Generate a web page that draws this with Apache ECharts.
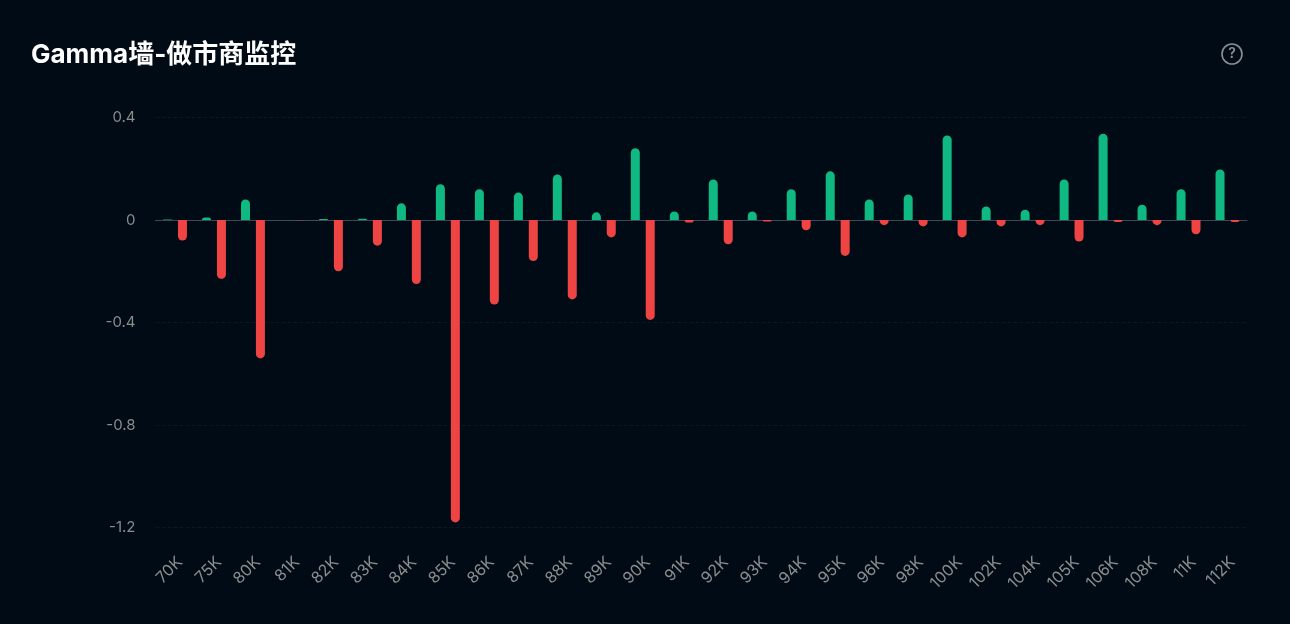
<!DOCTYPE html>
<html>
<head>
<meta charset="utf-8">
<title>Gamma墙-做市商监控</title>
<script src="https://cdn.jsdelivr.net/npm/echarts@6/dist/echarts.min.js"></script>
<style>
    html, body { margin: 0; padding: 0; background: #010b15; }
    #chart { width: 1290px; height: 624px; }
</style>
</head>
<body>
<div id="chart"></div>
<script>
var strikes = ['70K', '75K', '80K', '81K', '82K', '83K', '84K', '85K', '86K', '87K', '88K', '89K', '90K', '91K',
    '92K', '93K', '94K', '95K', '96K', '98K', '100K', '102K', '104K', '105K', '106K', '108K', '11K', '112K'];
var callGamma = [0.002, 0.01, 0.08, 0, 0.004, 0.005, 0.065, 0.14, 0.12, 0.107, 0.178, 0.03, 0.28, 0.033,
    0.158, 0.033, 0.12, 0.19, 0.08, 0.1, 0.33, 0.053, 0.04, 0.158, 0.337, 0.06, 0.12, 0.197];
var putGamma = [-0.08, -0.23, -0.54, -0.001, -0.2, -0.1, -0.25, -1.18, -0.33, -0.16, -0.31, -0.068, -0.39, -0.01,
    -0.095, -0.006, -0.04, -0.14, -0.02, -0.025, -0.068, -0.025, -0.02, -0.084, -0.008, -0.02, -0.056, -0.008];

var fontFamily = 'Inter, "Noto Sans CJK SC", sans-serif';
var myChart = echarts.init(document.getElementById('chart'));

var option = {
    backgroundColor: '#010b15',
    animation: false,
    title: {
        text: 'Gamma墙-做市商监控',
        left: 26,
        top: 37,
        textStyle: {
            color: '#ffffff',
            fontSize: 26,
            fontWeight: 700,
            fontFamily: fontFamily,
        },
    },
    grid: {
        left: 155.5,
        right: 43,
        top: 117.5,
        bottom: 96.5,
    },
    xAxis: {
        type: 'category',
        data: strikes,
        axisLine: {
            lineStyle: { color: '#3d4954', width: 1 },
        },
        axisTick: { show: false },
        axisLabel: {
            interval: 0,
            rotate: 45,
            // right end of each label sits a little past the category centre
            align: 'right',
            verticalAlign: 'middle',
            padding: [0, -7, 0, 0],
            margin: 37,
            color: '#8a8c8e',
            fontSize: 16,
            fontFamily: fontFamily,
        },
    },
    yAxis: {
        type: 'value',
        min: -1.2,
        max: 0.4,
        interval: 0.4,
        axisLabel: {
            margin: 20,
            color: '#8a8c8e',
            fontSize: 15,
            fontFamily: fontFamily,
        },
        splitLine: {
            lineStyle: { color: '#0b1720', type: 'dashed' },
        },
    },
    series: [
        {
            name: 'Call',
            type: 'bar',
            barWidth: 9,
            barGap: '66%',
            data: callGamma,
            itemStyle: {
                color: '#10b981',
                borderRadius: [5, 5, 0, 0],
            },
        },
        {
            name: 'Put',
            type: 'bar',
            barWidth: 9,
            data: putGamma,
            itemStyle: {
                color: '#ef4444',
                borderRadius: [0, 0, 5, 5],
            },
        },
    ],
    // help icon at the top right of the card
    graphic: [
        {
            type: 'circle',
            shape: { cx: 1232, cy: 54, r: 10 },
            style: { fill: 'none', stroke: '#8a8f93', lineWidth: 1.6 },
        },
        {
            type: 'text',
            x: 1232,
            y: 54,
            style: {
                text: '?',
                fill: '#8a8f93',
                font: '600 14px Inter, sans-serif',
                align: 'center',
                verticalAlign: 'middle',
            },
        },
    ],
};

myChart.setOption(option);
</script>
</body>
</html>
